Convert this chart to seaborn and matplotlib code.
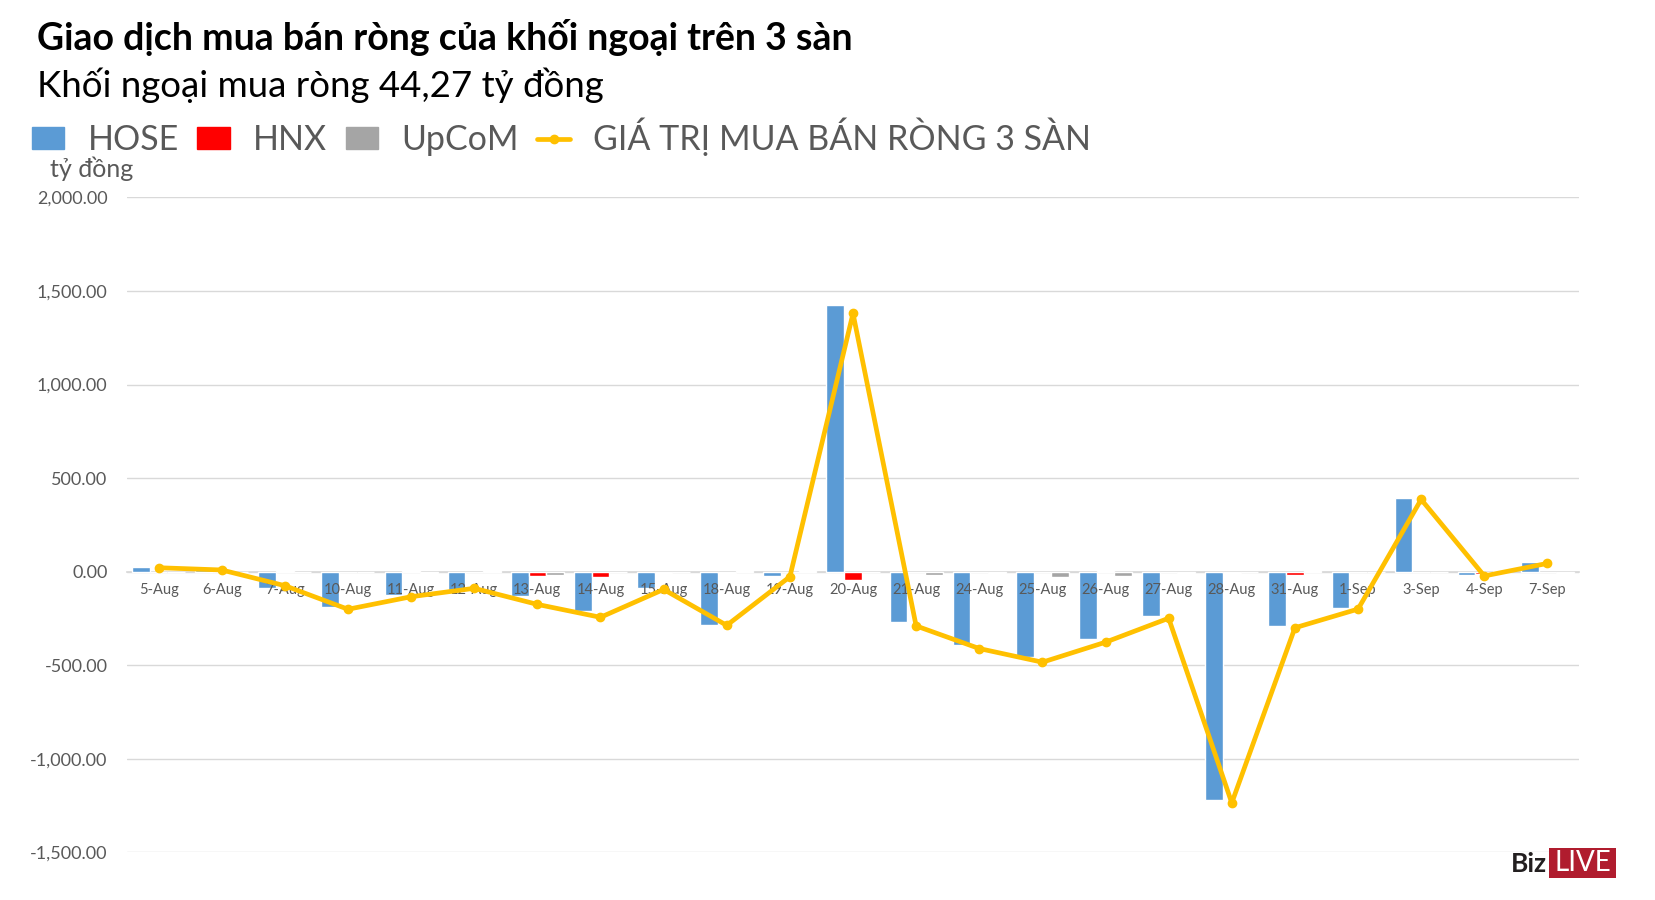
import numpy as np
import pandas as pd
import matplotlib
matplotlib.use("Agg")
import matplotlib.pyplot as plt
import seaborn as sns
from matplotlib.patches import Patch, Rectangle
from matplotlib.lines import Line2D

dates = ["5-Aug", "6-Aug", "7-Aug", "10-Aug", "11-Aug", "12-Aug", "13-Aug", "14-Aug",
         "15-Aug", "18-Aug", "19-Aug", "20-Aug", "21-Aug", "24-Aug", "25-Aug", "26-Aug",
         "27-Aug", "28-Aug", "31-Aug", "1-Sep", "3-Sep", "4-Sep", "7-Sep"]
hose = [25, 8, -86, -187, -125, -98, -130, -209, -86, -283, -22, 1426, -269, -394,
        -456, -360, -235, -1219, -289, -193, 392, -16, 52]
hnx = [-3, 1, 6, -3, 2, -3, -21, -27, -5, -6, -3, -45, -3, -3, -3, 3, -3, -9, -16,
       -3, -3, -11, -2]
upcom = [-3, -2, -2, -3, -8, 2, -16, -3, -4, 2, 2, -3, -16, -9, -27, -21, -6, -3,
         2, -3, -3, 1, -6]
total = [21, 9, -75, -201, -134, -89, -175, -244, -95, -287, -27, 1380, -290, -411,
         -484, -377, -249, -1236, -300, -200, 386, -23, 44.27]

c_hose, c_hnx, c_upcom, c_line = "#5B9BD5", "#FF0000", "#A5A5A5", "#FFC000"
gray_txt = "#595959"

sns.set_theme(style="white")
plt.rcParams["font.family"] = ["Lato", "Noto Sans", "DejaVu Sans"]
plt.rcParams["axes.unicode_minus"] = False

df = pd.DataFrame({"date": dates * 3,
                   "value": hose + hnx + upcom,
                   "san": ["HOSE"] * len(dates) + ["HNX"] * len(dates) + ["UpCoM"] * len(dates)})

fig = plt.figure(figsize=(16.56, 9), dpi=100)
ax = fig.add_axes([0.0767, 0.053, 0.8768, 0.7276])

sns.barplot(data=df, x="date", y="value", hue="san", order=dates,
            hue_order=["HOSE", "HNX", "UpCoM"],
            palette=[c_hose, c_hnx, c_upcom], width=0.84, gap=0,
            saturation=1, legend=False, ax=ax, zorder=2)
ax.plot(np.arange(len(dates)), total, color=c_line, lw=3.4, marker="o",
        markersize=6, zorder=6, solid_joinstyle="round")

ax.set_xlim(-0.5, len(dates) - 0.5)
ax.set_ylim(-1500, 2000)
ax.set_yticks(np.arange(-1500, 2001, 500))
ax.yaxis.set_major_formatter(matplotlib.ticker.StrMethodFormatter("{x:,.2f}"))
ax.grid(axis="y", color="#D9D9D9", lw=1, zorder=0)
ax.set_axisbelow(True)
ax.xaxis.set_zorder(5)
for s in ["top", "right", "left"]:
    ax.spines[s].set_visible(False)
ax.spines["bottom"].set_position(("data", 0))
ax.spines["bottom"].set_color("#D9D9D9")
ax.spines["bottom"].set_zorder(1)
ax.tick_params(axis="y", length=0, pad=14, labelsize=13, labelcolor=gray_txt)
ax.tick_params(axis="x", length=0, pad=8, labelsize=10.5, labelcolor=gray_txt)
ax.set_xlabel("")
ax.set_ylabel("")

fig.text(37 / 1656, 1 - 37 / 900, "Giao dịch mua bán ròng của khối ngoại trên 3 sàn",
         fontsize=27, fontweight="bold", va="center", color="black")
fig.text(37 / 1656, 1 - 85 / 900, "Khối ngoại mua ròng 44,27 tỷ đồng",
         fontsize=26.4, va="center", color="black")
fig.text(50 / 1656, 1 - 169 / 900, "tỷ đồng", fontsize=18, va="center", color=gray_txt)

handles = [Patch(color=c_hose), Patch(color=c_hnx), Patch(color=c_upcom),
           Line2D([], [], color=c_line, lw=3.4, marker="o", markersize=6)]
labels = ["HOSE", "HNX", "UpCoM", "GIÁ TRỊ MUA BÁN RÒNG 3 SÀN"]
fig.legend(handles, labels, loc="center left", bbox_to_anchor=(32 / 1656, 1 - 137 / 900),
           ncol=4, frameon=False, fontsize=24.5, labelcolor=gray_txt,
           borderpad=0, borderaxespad=0,
           handlelength=0.95, handleheight=0.62, handletextpad=0.68, columnspacing=0.55)

# BizLIVE logo
fig.text(1547 / 1656, 1 - 864 / 900, "Biz", fontsize=19, fontweight="bold",
         color="#231F20", va="center", ha="right")
fig.patches.append(Rectangle((1549 / 1656, 1 - 878 / 900), 67 / 1656, 30 / 900,
                             transform=fig.transFigure, fc="#B01C2E", ec="none"))
fig.text(1582.5 / 1656, 1 - 863 / 900, "LIVE", fontsize=20, fontweight="normal",
         color="white", va="center", ha="center")

fig.savefig("out.png", dpi=100)
